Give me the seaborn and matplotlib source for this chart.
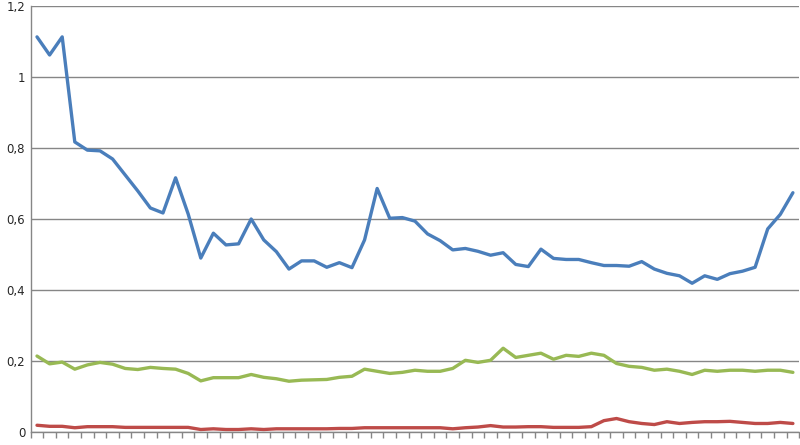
import numpy as np
import pandas as pd
import matplotlib.pyplot as plt
import seaborn as sns

# values (61 categories)
blue = [1.113, 1.062, 1.113, 0.817, 0.794, 0.792, 0.769, 0.724, 0.679, 0.631,
        0.617, 0.716, 0.614, 0.490, 0.560, 0.527, 0.530, 0.600, 0.541, 0.508,
        0.459, 0.482, 0.482, 0.464, 0.477, 0.463, 0.541, 0.686, 0.602, 0.604,
        0.594, 0.558, 0.539, 0.513, 0.517, 0.509, 0.498, 0.505, 0.472, 0.466,
        0.515, 0.489, 0.486, 0.486, 0.477, 0.469, 0.469, 0.467, 0.480, 0.459,
        0.447, 0.440, 0.419, 0.440, 0.430, 0.446, 0.453, 0.464, 0.572, 0.613,
        0.674]
green = [0.214, 0.192, 0.197, 0.177, 0.189, 0.196, 0.191, 0.179, 0.176, 0.182,
         0.179, 0.177, 0.165, 0.144, 0.153, 0.153, 0.153, 0.162, 0.154, 0.150,
         0.143, 0.146, 0.147, 0.148, 0.154, 0.157, 0.177, 0.171, 0.165, 0.168,
         0.174, 0.171, 0.171, 0.179, 0.202, 0.196, 0.202, 0.236, 0.210, 0.216,
         0.222, 0.205, 0.216, 0.213, 0.222, 0.216, 0.193, 0.185, 0.182, 0.174,
         0.177, 0.171, 0.162, 0.174, 0.171, 0.174, 0.174, 0.171, 0.174, 0.174,
         0.168]
red = [0.019, 0.016, 0.016, 0.012, 0.015, 0.015, 0.015, 0.013, 0.013, 0.013,
       0.013, 0.013, 0.013, 0.007, 0.009, 0.007, 0.007, 0.009, 0.007, 0.009,
       0.009, 0.009, 0.009, 0.009, 0.010, 0.010, 0.012, 0.012, 0.012, 0.012,
       0.012, 0.012, 0.012, 0.009, 0.012, 0.014, 0.018, 0.014, 0.014, 0.015,
       0.015, 0.013, 0.013, 0.013, 0.015, 0.032, 0.038, 0.029, 0.024, 0.021,
       0.029, 0.024, 0.027, 0.029, 0.029, 0.030, 0.027, 0.024, 0.024, 0.027,
       0.024]
yticks = [0, 0.2, 0.4, 0.6, 0.8, 1.0, 1.2]
ytick_labels = ["0", "0,2", "0,4", "0,6", "0,8", "1", "1,2"]

n = len(blue)
df = pd.DataFrame({"x": np.arange(n), "blue": blue, "red": red, "green": green})
long = df.melt(id_vars="x", var_name="series", value_name="value")

sns.set_style("white")
plt.rcParams['font.family'] = ['DejaVu Sans']

fig = plt.figure(figsize=(8, 4.45), dpi=100)
ax = fig.add_axes([30.7 / 800, 1 - 432 / 445, 1 - 30.7 / 800 - 0.001, (432 - 6) / 445])

palette = {"blue": "#4A7EBB", "red": "#BE4B48", "green": "#98B954"}
sns.lineplot(data=long, x="x", y="value", hue="series", palette=palette,
             linewidth=2.4, legend=False, ax=ax)

ax.set_ylim(0, 1.2)
ax.set_xlim(-0.5, n - 0.5)
ax.set_yticks(yticks)
ax.set_yticklabels(ytick_labels, fontsize=8.5)
ax.set_xticks(np.arange(-0.5, n, 1))
ax.set_xticklabels([])
ax.tick_params(axis="x", direction="out", length=4, color="#868686", width=1, bottom=True)
ax.tick_params(axis="y", length=0, pad=4)
ax.set_xlabel("")
ax.set_ylabel("")

ax.yaxis.grid(True, color="#868686", linewidth=1)
ax.set_axisbelow(True)
for side in ["top", "right"]:
    ax.spines[side].set_visible(False)
for side in ["left", "bottom"]:
    ax.spines[side].set_color("#868686")
    ax.spines[side].set_linewidth(1)

fig.savefig("out.png", dpi=100)
